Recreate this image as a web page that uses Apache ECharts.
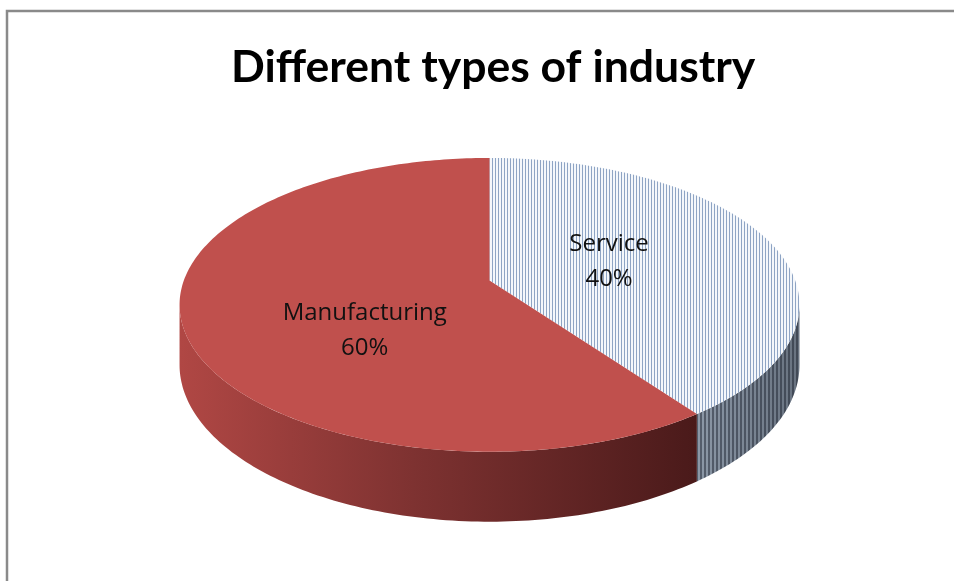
<!DOCTYPE html>
<html>
<head>
<meta charset="utf-8">
<script src="https://cdn.jsdelivr.net/npm/echarts@6/dist/echarts.min.js"></script>
<style>
  html, body { margin: 0; padding: 0; background: #ffffff; }
  #chart { width: 954px; height: 581px; }
</style>
</head>
<body>
<div id="chart"></div>
<script>
// ---- data ----
const categories = ['Service', 'Manufacturing'];
const shares = [40, 60];
const chartTitle = 'Different types of industry';

// ---- tilted-disc projection (perspective view of a flat cylinder) ----
const GEO = { cx: 489.5, cy: 280.6, s: 305.7, q: 142.9, k: 0.165, depth: 58.4 };
const rad = d => d * Math.PI / 180;
const deg = r => r * 180 / Math.PI;
// angle measured clockwise from the far (top) point of the disc
function project(thetaDeg, f, h) {
  const t = rad(thetaDeg);
  const den = 1 + f * GEO.k * Math.cos(t);
  return [
    GEO.cx + f * GEO.s * Math.sin(t) / den,
    GEO.cy - f * GEO.q * Math.cos(t) / den + h * GEO.depth / den
  ];
}
// the outer wall faces the viewer between these two angles
const VIS0 = deg(Math.acos(-GEO.k));
const VIS1 = 360 - VIS0;

function arc(a0, a1, h) {
  const pts = [];
  const n = Math.max(2, Math.ceil(Math.abs(a1 - a0)));
  for (let i = 0; i <= n; i++) pts.push(project(a0 + (a1 - a0) * i / n, 1, h));
  return pts;
}

// ---- fills ----
function stripePattern(period, lineW, bg, line) {
  const c = document.createElement('canvas');
  c.width = period; c.height = 8;
  const g = c.getContext('2d');
  g.fillStyle = bg; g.fillRect(0, 0, period, 8);
  g.fillStyle = line; g.fillRect(0, 0, lineW, 8);
  return { image: c, repeat: 'repeat' };
}
const topFill = [
  stripePattern(3, 1, '#f4f7fb', '#8ea4c4'),
  '#c0504d'
];
const sideFill = [
  stripePattern(4, 2, '#8c98a7', '#555e6c'),
  { type: 'linear', x: 180, y: 0, x2: 697, y2: 0, global: true,
    colorStops: [
      { offset: 0, color: '#b04744' },
      { offset: 0.45, color: '#7e3231' },
      { offset: 1, color: '#4a1a1a' }
    ] }
];
const sideShade = [
  { type: 'linear', x: 697, y: 0, x2: 800, y2: 0, global: true,
    colorStops: [
      { offset: 0, color: 'rgba(20,25,35,0)' },
      { offset: 1, color: 'rgba(20,25,35,0.3)' }
    ] },
  null
];
const labelNudge = [[0, -1], [0, 31]];
const labelFont = '24px "Open Sans"';

const total = shares.reduce((a, b) => a + b, 0);

function renderSlice(params, api) {
  const i = params.dataIndex;
  let before = 0;
  for (let j = 0; j < i; j++) before += shares[j];
  const a0 = before / total * 360;
  const a1 = (before + api.value(0)) / total * 360;
  const children = [];

  // outer wall
  const v0 = Math.max(a0, VIS0), v1 = Math.min(a1, VIS1);
  if (v1 > v0) {
    const wall = arc(v0, v1, 0).concat(arc(v1, v0, 1));
    children.push({ type: 'polygon', z2: 1, shape: { points: wall },
      style: { fill: sideFill[i], stroke: null } });
    if (sideShade[i]) {
      children.push({ type: 'polygon', z2: 2, shape: { points: wall },
        style: { fill: sideShade[i], stroke: null } });
    }
  }

  // top face
  const top = [project(0, 0, 0)].concat(arc(a0, a1, 0));
  children.push({ type: 'polygon', z2: 5, shape: { points: top },
    style: { fill: topFill[i], stroke: null } });

  // label
  const mid = (a0 + a1) / 2;
  const p = project(mid, 0.42, 0);
  children.push({ type: 'text', z2: 10,
    style: {
      text: categories[i] + '\n' + api.value(0) + '%',
      x: p[0] + labelNudge[i][0], y: p[1] + labelNudge[i][1],
      align: 'center', verticalAlign: 'middle',
      font: labelFont, lineHeight: 35, fill: '#111111'
    } });

  return { type: 'group', children };
}

const chart = echarts.init(document.getElementById('chart'), null, { renderer: 'canvas' });
chart.setOption({
  animation: false,
  backgroundColor: '#ffffff',
  title: {
    text: chartTitle,
    left: 226,
    top: 40,
    textStyle: { fontFamily: 'Lato', fontWeight: 'bold', fontSize: 44.5, color: '#000000' }
  },
  graphic: [{
    type: 'rect', silent: true,
    shape: { x: 7, y: 11, width: 1000, height: 1000 },
    style: { fill: null, stroke: '#8a8a8a', lineWidth: 2.5 }
  }],
  series: [{
    type: 'custom',
    coordinateSystem: 'none',
    data: shares.map((v, i) => ({ name: categories[i], value: v })),
    renderItem: renderSlice
  }]
});
</script>
</body>
</html>
